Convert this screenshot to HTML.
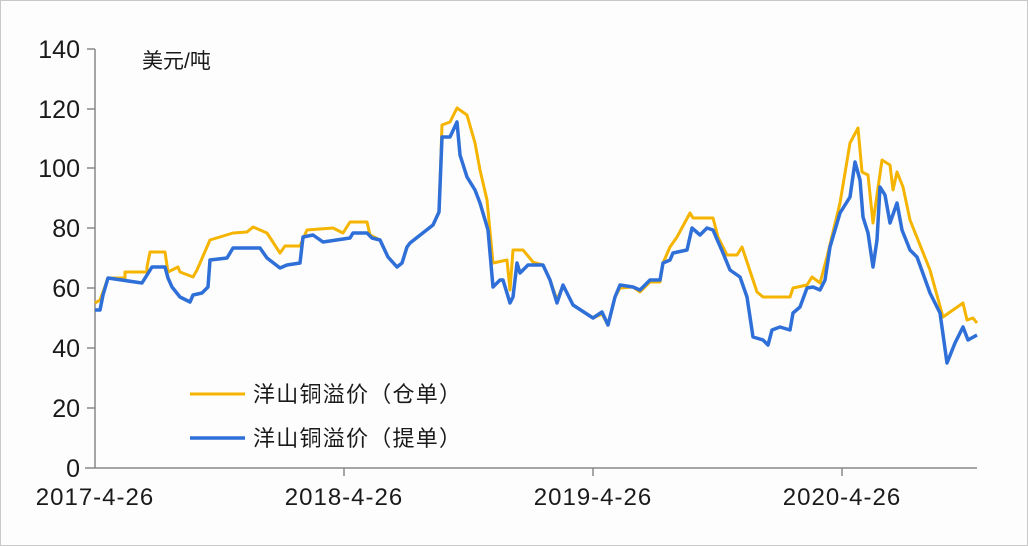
<!DOCTYPE html>
<html><head><meta charset="utf-8"><style>
body{margin:0;background:#fff}
svg{display:block}
text{font-family:"Liberation Sans","Noto Sans CJK SC",sans-serif;fill:#1a1a1a}
</style></head><body>
<svg width="1028" height="546" viewBox="0 0 1028 546">
<rect x="0.5" y="0.5" width="1027" height="545" fill="#fdfdfd" stroke="#c8c8c8"/>
<g stroke="#888" stroke-width="1.5" fill="none">
<line x1="95" y1="49" x2="95" y2="468"/>
<line x1="85" y1="468" x2="977" y2="468"/>
<line x1="87" y1="49" x2="95" y2="49"/><line x1="87" y1="109" x2="95" y2="109"/>
<line x1="87" y1="168" x2="95" y2="168"/><line x1="87" y1="228" x2="95" y2="228"/>
<line x1="87" y1="288" x2="95" y2="288"/><line x1="87" y1="348" x2="95" y2="348"/>
<line x1="87" y1="408" x2="95" y2="408"/>
<line x1="344" y1="468" x2="344" y2="476"/><line x1="593" y1="468" x2="593" y2="476"/><line x1="842" y1="468" x2="842" y2="476"/>
</g>
<g font-size="25" text-anchor="end">
<text x="80" y="58">140</text><text x="80" y="118">120</text><text x="80" y="177">100</text>
<text x="80" y="237">80</text><text x="80" y="297">60</text><text x="80" y="357">40</text>
<text x="80" y="417">20</text><text x="80" y="477">0</text>
</g>
<g font-size="24" text-anchor="middle" letter-spacing="1">
<text x="95" y="505">2017-4-26</text><text x="344" y="505">2018-4-26</text>
<text x="593" y="505">2019-4-26</text><text x="842" y="505">2020-4-26</text>
</g>
<text x="142" y="68" font-size="21">美元/吨</text>
<polyline fill="none" stroke="#f5b400" stroke-width="3" stroke-linejoin="round" points="95,303 100,300 103,292 108,278 125,278 125,272 147,272 147,267 150,252 165,252 168,272 178,267 180,272 193,277 197,270 210,240 233,233 247,232 253,227 267,233 280,253 285,246 300,246 307,230 333,228 343,233 350,222 367,222 370,235 380,240 388,257 397,267 402,263 407,247 410,243 433,225 439,212 442,125 450,122 457,108 467,115 475,143 480,170 487,200 493,263 507,260 510,290 513,250 523,250 533,262 543,265 550,280 557,300 563,285 573,305 593,318 602,314 608,325 615,297 620,288 633,287 640,292 650,282 660,282 663,263 670,247 677,237 690,213 693,218 713,218 718,237 727,255 737,255 742,247 757,292 763,297 790,297 793,288 807,285 812,277 820,283 827,257 840,203 850,143 858,128 862,172 868,175 873,223 882,160 890,165 893,190 897,172 903,187 910,220 930,270 943,317 963,303 967,320 973,318 977,323"/>
<polyline fill="none" stroke="#2f6fd8" stroke-width="3.5" stroke-linejoin="round" points="95,310 100,310 103,295 108,278 142,283 147,275 152,267 165,267 168,278 172,287 180,297 190,302 193,295 202,293 208,287 210,260 227,258 233,248 260,248 267,258 280,268 287,265 300,263 303,237 313,235 323,242 350,238 353,233 367,233 372,238 380,240 388,257 397,267 402,263 407,247 410,243 433,225 439,212 442,137 450,137 457,122 460,155 467,177 475,190 480,203 488,230 493,287 500,280 503,280 510,303 513,297 517,263 520,273 528,265 543,265 550,280 557,303 563,285 573,305 593,318 602,312 608,325 615,297 620,285 633,287 640,290 650,280 660,280 663,263 670,260 673,253 687,250 692,228 700,235 707,228 713,230 723,253 730,270 740,277 747,297 753,337 763,340 768,345 772,330 780,327 790,330 793,313 800,307 807,288 813,287 820,290 825,280 830,247 840,213 850,197 855,162 860,180 863,217 868,233 873,267 877,240 880,187 885,195 890,223 897,203 902,230 910,250 917,257 930,293 940,313 947,363 955,343 963,327 968,340 977,335"/>
<line x1="190" y1="394" x2="245" y2="394" stroke="#f5b400" stroke-width="3"/>
<line x1="190" y1="438" x2="245" y2="438" stroke="#2f6fd8" stroke-width="3.5"/>
<text x="253" y="402" font-size="22" textLength="208" lengthAdjust="spacing">洋山铜溢价（仓单）</text>
<text x="253" y="446" font-size="22" textLength="208" lengthAdjust="spacing">洋山铜溢价（提单）</text>
</svg>
</body></html>
